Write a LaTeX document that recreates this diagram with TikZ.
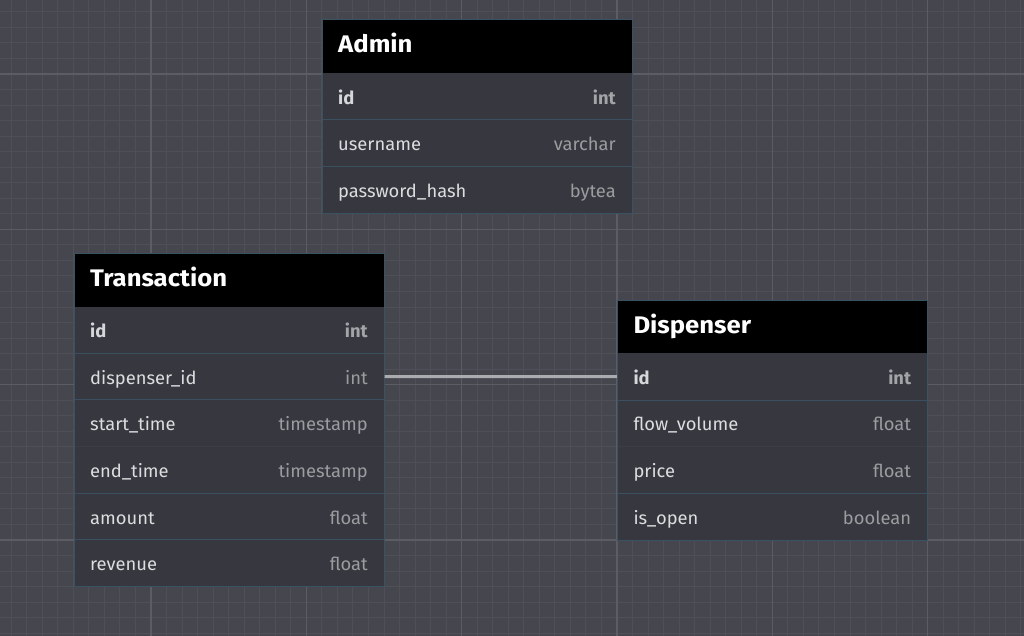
\documentclass[tikz,border=0pt]{standalone}
\usepackage{fontspec}
\setmainfont{Fira Sans}
\newfontfamily\hdrfont[FakeStretch=1.07]{Fira Sans}
\newfontfamily\rowfont[FakeStretch=1.02]{Fira Sans}
\usetikzlibrary{calc}
\definecolor{bg}{HTML}{45464E}
\definecolor{minorc}{HTML}{4E4F57}
\definecolor{majorc}{HTML}{5C5D64}
\definecolor{body}{HTML}{37383F}
\definecolor{borderc}{HTML}{3B5262}
\definecolor{sepc}{HTML}{3A5060}
\definecolor{faintc}{HTML}{3D3E45}
\definecolor{nametxt}{HTML}{DCDDDF}
\definecolor{typetxt}{HTML}{9B9C9F}
\definecolor{keyname}{HTML}{D6D7DA}
\definecolor{keytype}{HTML}{A3A4A7}
\definecolor{relc}{HTML}{ABACB0}
\tikzset{
  hdr/.style={fill=black, draw=none, minimum width=310pt, minimum height=53.33pt, inner sep=0pt, outer sep=0pt, anchor=north west},
  rowbox/.style={fill=body, draw=none, minimum width=310pt, minimum height=46.67pt, inner sep=0pt, outer sep=0pt, anchor=north west},
  htext/.style={text=white, font=\hdrfont\fontsize{24}{28}\selectfont\bfseries, anchor=base west, inner sep=0pt},
  ntext/.style={text=nametxt, font=\rowfont\fontsize{18}{22}\selectfont, anchor=base west, inner sep=0pt},
  ttext/.style={text=typetxt, font=\rowfont\fontsize{18}{22}\selectfont, anchor=base east, inner sep=0pt},
  kname/.style={text=keyname, font=\rowfont\fontsize{18}{22}\selectfont\bfseries},
  ktype/.style={text=keytype, font=\rowfont\fontsize{18}{22}\selectfont\bfseries},
  plain/.style={},
  sepline/.style={draw=sepc, line width=1pt},
  faintline/.style={draw=faintc, line width=1pt},
  tblborder/.style={draw=borderc, line width=1pt},
  minorline/.style={draw=minorc, line width=1pt},
  majorline/.style={draw=majorc, line width=1.2pt},
  rel/.style={draw=relc, line width=3pt}
}
\newcommand\tblhead[4]{%
  \node[hdr] (#1) at (#2,#3) {};
  \node[htext] (#1-t) at ($(#1.north west)+(16,33)$) {#4};}
\newcommand\tblrow[6]{%
  \node[rowbox] (#1) at (#2.south west) {};
  \node[ntext,#5] (#1-n) at ($(#1.north west)+(16,30.7)$) {#3};
  \node[ttext,#6] (#1-y) at ($(#1.north east)+(-16,30.7)$) {#4};}
\begin{document}
\begin{tikzpicture}[x=1pt,y=-1pt]
\useasboundingbox (0,0) rectangle (1024,636);
\fill[bg] (0,0) rectangle (1024,636);
% grid
\foreach \i in {-9,...,56} \draw[minorline] ({151+15.5333*\i},0) -- ({151+15.5333*\i},636);
\foreach \j in {-4,...,36} \draw[minorline] (0,{74+15.5333*\j}) -- (1024,{74+15.5333*\j});
\foreach \i in {0,10,...,50} \draw[majorline] ({151+15.5333*\i},0) -- ({151+15.5333*\i},636);
\foreach \j in {0,10,20,30} \draw[majorline] (0,{74+15.5333*\j}) -- (1024,{74+15.5333*\j});

% Admin
\tblhead{a}{322}{20}{Admin}
\tblrow{a1}{a}{id}{int}{kname}{ktype}
\tblrow{a2}{a1}{username}{varchar}{plain}{plain}
\tblrow{a3}{a2}{password\_hash}{bytea}{plain}{plain}
\draw[sepline] (a1.south west) -- (a1.south east);
\draw[sepline] (a2.south west) -- (a2.south east);
\draw[tblborder] (a.north west) rectangle (a3.south east);

% Transaction
\tblhead{t}{74}{253.3}{Transaction}
\tblrow{t1}{t}{id}{int}{kname}{ktype}
\tblrow{t2}{t1}{dispenser\_id}{int}{plain}{plain}
\tblrow{t3}{t2}{start\_time}{timestamp}{plain}{plain}
\tblrow{t4}{t3}{end\_time}{timestamp}{plain}{plain}
\tblrow{t5}{t4}{amount}{float}{plain}{plain}
\tblrow{t6}{t5}{revenue}{float}{plain}{plain}
\draw[sepline] (t1.south west) -- (t1.south east);
\draw[sepline] (t2.south west) -- (t2.south east);
\draw[faintline] (t3.south west) -- (t3.south east);
\draw[sepline] (t4.south west) -- (t4.south east);
\draw[sepline] (t5.south west) -- (t5.south east);
\draw[tblborder] (t.north west) rectangle (t6.south east);

% Dispenser
\tblhead{d}{617.3}{300}{Dispenser}
\tblrow{d1}{d}{id}{int}{kname}{ktype}
\tblrow{d2}{d1}{flow\_volume}{float}{plain}{plain}
\tblrow{d3}{d2}{price}{float}{plain}{plain}
\tblrow{d4}{d3}{is\_open}{boolean}{plain}{plain}
\draw[sepline] (d1.south west) -- (d1.south east);
\draw[faintline] (d2.south west) -- (d2.south east);
\draw[sepline] (d3.south west) -- (d3.south east);
\draw[tblborder] (d.north west) rectangle (d4.south east);

% relation
\draw[rel] ($(t2.east)+(0.5,0)$) -- ($(d1.west)+(-0.5,0)$);
\end{tikzpicture}
\end{document}
